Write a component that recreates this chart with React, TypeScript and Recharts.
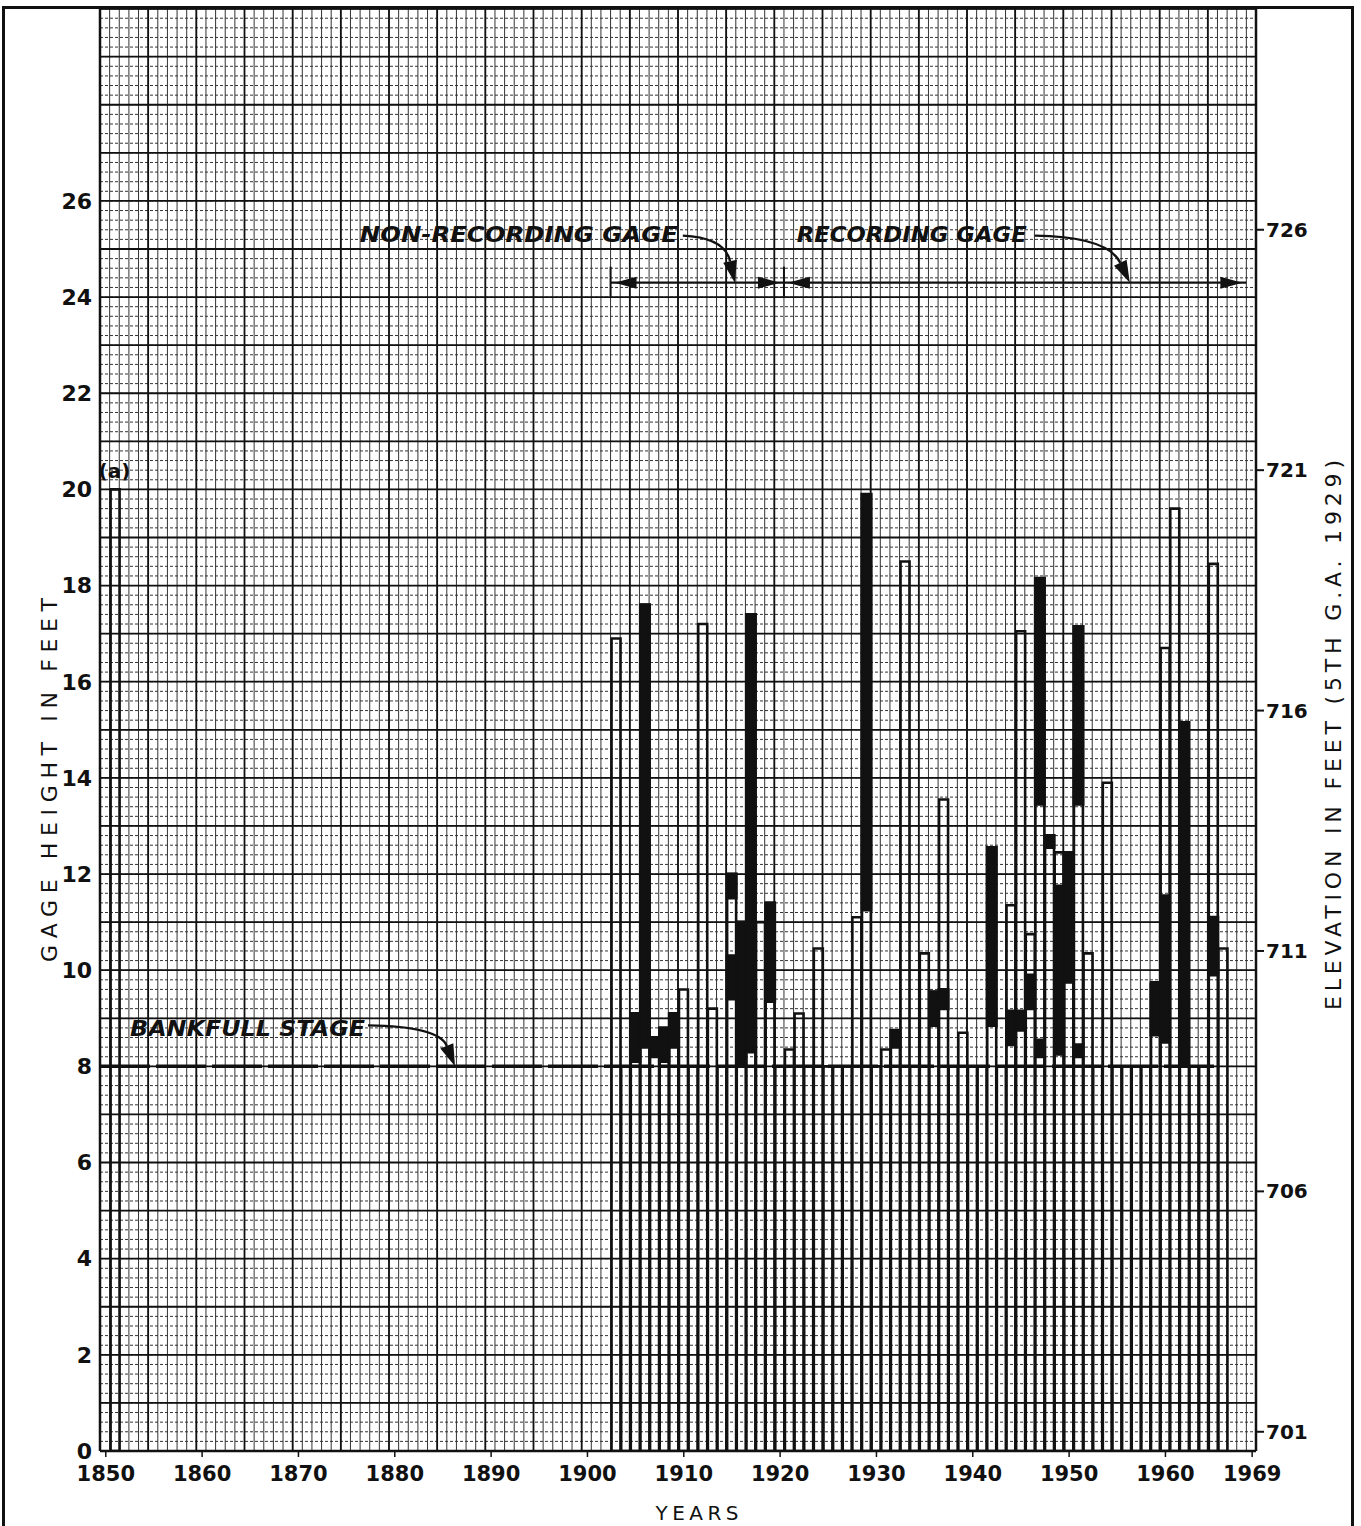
import {
  BarChart,
  Bar,
  XAxis,
  YAxis,
  CartesianGrid,
  ReferenceLine,
  ReferenceDot,
  Label,
} from 'recharts';

// Years with a plotted annual peak (1851 is the historic flood marked (a))
const years = [
  1851, 1903, 1904, 1905, 1906, 1907, 1908, 1909, 1910, 1911, 1912, 1913, 1914,
  1915, 1916, 1917, 1918, 1919, 1920, 1921, 1922, 1923, 1924, 1925, 1926, 1927,
  1928, 1929, 1930, 1931, 1932, 1933, 1934, 1935, 1936, 1937, 1938, 1939, 1940,
  1941, 1942, 1943, 1944, 1945, 1946, 1947, 1948, 1949, 1950, 1951, 1952, 1953,
  1954, 1955, 1956, 1957, 1958, 1959, 1960, 1961, 1962, 1963, 1964, 1965, 1966,
];

// Annual peak gage height (ft), drawn as open bars
const peakStage = [
  20.0, 16.9, 8, 9.1, 17.6, 8.6, 8.8, 9.1, 9.6, 8, 17.2, 9.2, 8,
  12.0, 11.0, 17.4, 11.0, 11.4, 8, 8.35, 9.1, 8, 10.45, 8, 8, 8,
  11.1, 19.9, 8, 8.35, 8.75, 18.5, 8, 10.35, 9.55, 13.55, 8, 8.7, 8,
  8, 12.55, 8, 11.35, 17.05, 10.75, 18.15, 12.8, 12.45, 12.45, 17.15, 10.35, 8,
  13.9, 8, 8, 8, 8, 9.75, 16.7, 19.6, 15.15, 8, 8, 18.45, 10.45,
];

// Black bands (other flood stages in the year): year, low, high
const bandYears = [
  1905, 1906, 1907, 1908, 1909, 1915, 1915, 1916, 1917, 1919, 1929, 1932, 1936,
  1937, 1942, 1944, 1945, 1946, 1947, 1947, 1948, 1949, 1950, 1951, 1951, 1959,
  1960, 1962, 1965,
];
const bandLow = [
  8.1, 8.4, 8.2, 8.1, 8.4, 11.5, 9.4, 8.0, 8.3, 9.35, 11.25, 8.4, 8.85,
  9.2, 8.85, 8.45, 8.75, 9.2, 13.45, 8.2, 12.55, 8.25, 9.75, 13.45, 8.2, 8.65,
  8.5, 8.0, 9.9,
];
const bandHigh = [
  9.1, 17.6, 8.6, 8.8, 9.1, 12.0, 10.3, 11.0, 17.4, 11.4, 19.9, 8.75, 9.55,
  9.6, 12.55, 9.15, 9.15, 9.9, 18.15, 8.55, 12.8, 11.75, 12.45, 17.15, 8.45, 9.7,
  11.55, 15.15, 11.1,
];

const xTicks = [1850, 1860, 1870, 1880, 1890, 1900, 1910, 1920, 1930, 1940, 1950, 1960, 1969];
const gageTicks = [0, 2, 4, 6, 8, 10, 12, 14, 16, 18, 20, 22, 24, 26];
const elevationTicks = [701, 706, 711, 716, 721, 726];

const BANKFULL = 8;
const GAGE_LINE = 24.3;
const nonRecording = [1902.4, 1920.4];
const recording = [1920.4, 1968.4];

const W = 1361;
const H = 1526;
const X_DOMAIN: [number, number] = [1849.4, 1969.4];
const Y_DOMAIN: [number, number] = [0, 30];
const ELEV_DOMAIN: [number, number] = [700.6, 730.6];

const INK = '#111';
const FONT = '"DejaVu Sans", "Liberation Sans", sans-serif';

const rows = years.map((year, i) => {
  const own = bandYears
    .map((y, j) => (y === year ? [bandLow[j], bandHigh[j]] : null))
    .filter((b) => b !== null);
  return { year, peak: peakStage[i], bandA: own[0] ?? null, bandB: own[1] ?? null };
});

// grid coordinates in pixels, taken from the plot offset
const gridX = (step: number) => ({ offset }: any) => {
  const span = X_DOMAIN[1] - X_DOMAIN[0];
  const left = offset?.left ?? 100;
  const width = offset?.width ?? 1156;
  const out: number[] = [];
  for (let k = 0; k * step <= span + 1e-6; k++) out.push(left + ((k * step) / span) * width);
  return out;
};
const gridY = (step: number) => ({ offset }: any) => {
  const span = Y_DOMAIN[1] - Y_DOMAIN[0];
  const top = offset?.top ?? 8.6;
  const height = offset?.height ?? 1442.4;
  const out: number[] = [];
  for (let k = 0; k * step <= span + 1e-6; k++) out.push(top + ((k * step) / span) * height);
  return out;
};

function GageSpan(props: any) {
  const { x1, y1, x2 } = props;
  const y = y1;
  return (
    <g>
      <line x1={x1} y1={y} x2={x2} y2={y} stroke={INK} strokeWidth={2.2} />
      <line x1={x1} y1={y - 16} x2={x1} y2={y + 14} stroke={INK} strokeWidth={2} />
      <path d={`M${x1 + 4},${y} l22,-6 l0,12 z`} fill={INK} />
      <path d={`M${x2 - 4},${y} l-22,-6 l0,12 z`} fill={INK} />
    </g>
  );
}

type CalloutProps = {
  cx?: number;
  cy?: number;
  text: string;
  textLen: number;
  tx: number;
  ty: number;
  sx: number;
  sy: number;
  qx: number;
  qy: number;
};

function Callout({ cx = 0, cy = 0, text, textLen, tx, ty, sx, sy, qx, qy }: CalloutProps) {
  const xq = cx + qx;
  const yq = cy + qy;
  const ang = Math.atan2(cy - yq, cx - xq);
  const len = 22;
  const half = 7;
  const bx = cx - len * Math.cos(ang);
  const by = cy - len * Math.sin(ang);
  const px = -Math.sin(ang) * half;
  const py = Math.cos(ang) * half;
  return (
    <g>
      <text
        x={cx + tx}
        y={cy + ty}
        textAnchor="end"
        textLength={textLen}
        lengthAdjust="spacingAndGlyphs"
        fontFamily={FONT}
        fontSize={22}
        fontWeight="bold"
        fontStyle="italic"
        fill={INK}
      >
        {text}
      </text>
      <path
        d={`M${cx + sx},${cy + sy} Q${xq},${yq} ${bx},${by}`}
        fill="none"
        stroke={INK}
        strokeWidth={2.4}
      />
      <path d={`M${cx},${cy} L${bx + px},${by + py} L${bx - px},${by - py} Z`} fill={INK} />
    </g>
  );
}

export default function App() {
  return (
    <div style={{ position: 'absolute', left: 0, top: 0, width: W, height: H, background: '#fff' }}>
      {/* outer frame of the sheet */}
      <div
        style={{
          position: 'absolute',
          left: 2,
          top: 6,
          width: 1346,
          height: 1520,
          border: `3px solid ${INK}`,
          borderBottom: 'none',
        }}
      />
      <BarChart
        width={W}
        height={H}
        data={rows}
        margin={{ top: 8.6, right: 5, bottom: 35, left: 0 }}
        barSize={9}
        barGap={-9}
      >
        {/* fine grid: solid verticals, dashed horizontals */}
        <CartesianGrid
          yAxisId="gage"
          horizontal={false}
          stroke="#333"
          strokeWidth={1}
          verticalCoordinatesGenerator={gridX(1)}
        />
        <CartesianGrid
          yAxisId="gage"
          vertical={false}
          stroke="#333"
          strokeWidth={1}
          strokeDasharray="3 2"
          horizontalCoordinatesGenerator={gridY(0.2)}
        />
        <CartesianGrid
          yAxisId="gage"
          stroke={INK}
          strokeWidth={1.8}
          verticalCoordinatesGenerator={gridX(5)}
          horizontalCoordinatesGenerator={gridY(1)}
        />
        <XAxis
          dataKey="year"
          type="number"
          domain={X_DOMAIN}
          ticks={xTicks}
          interval={0}
          allowDataOverflow
          height={40}
          tickSize={6}
          tickMargin={9}
          axisLine={{ stroke: INK, strokeWidth: 2.5 }}
          tickLine={{ stroke: INK, strokeWidth: 1.5 }}
          tick={{ fill: INK, fontFamily: FONT, fontSize: 21, fontWeight: 'bold' }}
        >
          <Label
            content={() => (
              <text x={697} y={1520} textAnchor="middle" textLength={83} fontFamily={FONT} fontSize={20} fill={INK}>
                YEARS
              </text>
            )}
          />
        </XAxis>
        <YAxis
          yAxisId="gage"
          domain={Y_DOMAIN}
          ticks={gageTicks}
          interval={0}
          allowDataOverflow
          width={100}
          tickLine={false}
          tickSize={6}
          tickMargin={2}
          axisLine={{ stroke: INK, strokeWidth: 2.5 }}
          tick={{ fill: INK, fontFamily: FONT, fontSize: 22, fontWeight: 'bold' }}
        >
          <Label
            content={() => (
              <text
                x={57}
                y={780}
                transform="rotate(-90 57 780)"
                textAnchor="middle"
                textLength={364}
                fontFamily={FONT}
                fontSize={22}
                fill={INK}
              >
                GAGE HEIGHT IN FEET
              </text>
            )}
          />
        </YAxis>
        <YAxis
          yAxisId="elev"
          orientation="right"
          domain={ELEV_DOMAIN}
          ticks={elevationTicks}
          interval={0}
          allowDataOverflow
          width={100}
          tickSize={8}
          tickMargin={2}
          axisLine={{ stroke: INK, strokeWidth: 2.5 }}
          tickLine={{ stroke: INK, strokeWidth: 2 }}
          tick={{ fill: INK, fontFamily: FONT, fontSize: 20, fontWeight: 'bold' }}
        >
          <Label
            content={() => (
              <text
                x={1341}
                y={735}
                transform="rotate(-90 1341 735)"
                textAnchor="middle"
                textLength={550}
                fontFamily={FONT}
                fontSize={22}
                fill={INK}
              >
                ELEVATION IN FEET (5TH G.A. 1929)
              </text>
            )}
          />
        </YAxis>

        {/* annual peaks (open) and flood bands (black) */}
        <Bar yAxisId="gage" dataKey="peak" fill="none" stroke={INK} strokeWidth={2.6} isAnimationActive={false} />
        <Bar yAxisId="gage" dataKey="bandA" fill={INK} stroke={INK} strokeWidth={3} isAnimationActive={false} />
        <Bar yAxisId="gage" dataKey="bandB" fill={INK} stroke={INK} strokeWidth={3} isAnimationActive={false} />

        {/* top edge of the plot */}
        <ReferenceLine yAxisId="gage" y={Y_DOMAIN[1]} stroke={INK} strokeWidth={2.5} />

        {/* bankfull stage */}
        <ReferenceLine
          yAxisId="gage"
          segment={[{ x: X_DOMAIN[0], y: BANKFULL }, { x: 1965.5, y: BANKFULL }]}
          stroke={INK}
          strokeWidth={3.5}
          strokeDasharray="50 6"
        />

        {/* gage record spans */}
        <ReferenceLine
          yAxisId="gage"
          segment={[{ x: nonRecording[0], y: GAGE_LINE }, { x: nonRecording[1], y: GAGE_LINE }]}
          shape={(p: any) => <GageSpan {...p} />}
        />
        <ReferenceLine
          yAxisId="gage"
          segment={[{ x: recording[0], y: GAGE_LINE }, { x: recording[1], y: GAGE_LINE }]}
          shape={(p: any) => <GageSpan {...p} />}
        />

        <ReferenceDot
          yAxisId="gage"
          x={1915.3}
          y={GAGE_LINE}
          ifOverflow="visible"
          shape={(p: any) => (
            <Callout cx={p.cx} cy={p.cy} text="NON-RECORDING GAGE" textLen={318} tx={-57} ty={-41} sx={-52} sy={-47} qx={-10} qy={-45} />
          )}
        />
        <ReferenceDot
          yAxisId="gage"
          x={1956.3}
          y={GAGE_LINE}
          ifOverflow="visible"
          shape={(p: any) => (
            <Callout cx={p.cx} cy={p.cy} text="RECORDING GAGE" textLen={230} tx={-103} ty={-41} sx={-95} sy={-47} qx={-22} qy={-46} />
          )}
        />
        <ReferenceDot
          yAxisId="gage"
          x={1886.25}
          y={BANKFULL}
          ifOverflow="visible"
          shape={(p: any) => (
            <Callout cx={p.cx} cy={p.cy} text="BANKFULL STAGE" textLen={235} tx={-90} ty={-30} sx={-87} sy={-41} qx={-16} qy={-40} />
          )}
        />
        <ReferenceDot
          yAxisId="gage"
          x={years[0]}
          y={peakStage[0]}
          ifOverflow="visible"
          shape={(p: any) => (
            <text x={p.cx - 1} y={p.cy - 11} textAnchor="middle" fontFamily={FONT} fontSize={20} fontWeight="bold" fill={INK}>
              (a)
            </text>
          )}
        />
      </BarChart>
    </div>
  );
}
